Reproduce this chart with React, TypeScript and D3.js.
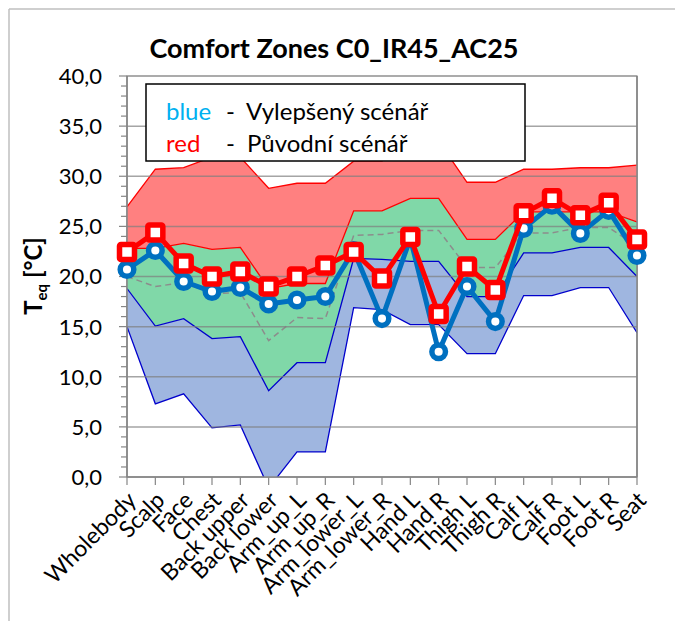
import React, { useEffect, useRef } from 'react';
import * as d3 from 'd3';

const categories = ['Wholebody', 'Scalp', 'Face', 'Chest', 'Back upper', 'Back lower', 'Arm_up_L', 'Arm_up_R', 'Arm_lower_L', 'Arm_lower_R', 'Hand L', 'Hand R', 'Thigh L', 'Thigh R', 'Calf L', 'Calf R', 'Foot L', 'Foot R', 'Seat'];

// comfort zone boundaries
const coldLimit = [15.0, 7.3, 8.3, 4.9, 5.2, -1.1, 2.5, 2.5, 16.9, 16.7, 15.2, 15.2, 12.3, 12.3, 18.1, 18.1, 18.9, 18.9, 14.4];
const coolLimit = [18.8, 15.05, 15.8, 13.8, 14.0, 8.6, 11.4, 11.4, 21.8, 21.7, 21.5, 21.5, 18.0, 18.0, 22.35, 22.35, 22.9, 22.9, 20.0];
const neutral = [20.0, 19.0, 19.4, 18.3, 18.4, 13.6, 15.9, 15.8, 24.1, 24.2, 24.6, 24.6, 20.9, 20.9, 24.35, 24.35, 24.9, 24.9, 23.0];
const warmLimit = [22.8, 22.8, 23.3, 22.7, 22.9, 18.8, 19.3, 19.3, 26.55, 26.55, 27.8, 27.8, 23.7, 23.7, 26.45, 26.45, 26.45, 26.45, 25.45];
const hotLimit = [26.95, 30.7, 30.85, 31.9, 31.9, 28.8, 29.3, 29.3, 31.5, 31.5, 33.5, 33.5, 29.4, 29.4, 30.7, 30.7, 30.85, 30.85, 31.1];

// scenarios
const blueValues = [20.7, 22.6, 19.5, 18.5, 18.9, 17.25, 17.65, 18.0, 22.6, 15.8, 23.8, 12.5, 19.0, 15.5, 24.8, 27.1, 24.3, 26.6, 22.1];
const redValues = [22.45, 24.4, 21.3, 20.0, 20.5, 19.0, 20.0, 21.1, 22.45, 19.8, 23.95, 16.25, 21.0, 18.65, 26.3, 27.8, 26.1, 27.35, 23.7];

const yTicks = [0, 5, 10, 15, 20, 25, 30, 35, 40];

const FONT = 'Lato, "Noto Sans", sans-serif';

const App = () => {
  const ref = useRef<SVGSVGElement | null>(null);

  useEffect(() => {
    const svg = d3.select(ref.current);
    svg.selectAll('*').remove();

    const left = 127, right = 637, top = 76, bottom = 477;

    const x = d3.scalePoint<string>().domain(categories).range([left, right]).padding(0);
    const y = d3.scaleLinear().domain([0, 40]).range([bottom, top]);

    // chart area border (cropped on right/bottom)
    svg.append('line').attr('x1', 9).attr('y1', 9).attr('x2', 675).attr('y2', 9).attr('stroke', '#bfbfbf').attr('stroke-width', 1.5);
    svg.append('line').attr('x1', 9).attr('y1', 9).attr('x2', 9).attr('y2', 621).attr('stroke', '#bfbfbf').attr('stroke-width', 1.5);

    svg.append('defs').append('clipPath').attr('id', 'plotclip')
      .append('rect').attr('x', left).attr('y', top).attr('width', right - left).attr('height', bottom - top);

    // plot area background + border
    svg.append('rect').attr('x', left).attr('y', top).attr('width', right - left).attr('height', bottom - top)
      .attr('fill', 'white').attr('stroke', '#595959').attr('stroke-width', 1);

    const idx = categories.map((_, i) => i);
    const band = (lo: number[], hi: number[]) =>
      d3.area<number>().x((i) => x(categories[i]) as number).y0((i) => y(lo[i])).y1((i) => y(hi[i]))(idx);
    const line = (vals: number[]) =>
      d3.line<number>().x((i) => x(categories[i]) as number).y((i) => y(vals[i]))(idx);

    const plot = svg.append('g').attr('clip-path', 'url(#plotclip)');

    plot.append('path').attr('d', band(coldLimit, coolLimit)).attr('fill', '#9fb6e0');
    plot.append('path').attr('d', band(coolLimit, warmLimit)).attr('fill', '#80d8a8');
    plot.append('path').attr('d', band(warmLimit, hotLimit)).attr('fill', '#ff8080');

    // gridlines
    svg.selectAll('.grid').data(yTicks.filter((t) => t > 0 && t < 40)).enter().append('line')
      .attr('x1', left).attr('x2', right).attr('y1', (d) => y(d)).attr('y2', (d) => y(d))
      .attr('stroke', '#7f7f7f').attr('stroke-opacity', 0.7).attr('stroke-width', 1.5);

    plot.append('path').attr('d', line(coldLimit)).attr('fill', 'none').attr('stroke', '#0000cc').attr('stroke-width', 1.3);
    plot.append('path').attr('d', line(coolLimit)).attr('fill', 'none').attr('stroke', '#0000cc').attr('stroke-width', 1.3);
    plot.append('path').attr('d', line(warmLimit)).attr('fill', 'none').attr('stroke', '#ff0000').attr('stroke-width', 1.3);
    plot.append('path').attr('d', line(hotLimit)).attr('fill', 'none').attr('stroke', '#ff0000').attr('stroke-width', 1.3);
    plot.append('path').attr('d', line(neutral)).attr('fill', 'none').attr('stroke', '#8c8c8c')
      .attr('stroke-width', 1.5).attr('stroke-dasharray', '6,4');

    // axes
    svg.append('line').attr('x1', left).attr('x2', left).attr('y1', top).attr('y2', bottom).attr('stroke', '#868686').attr('stroke-width', 1.5);
    svg.append('line').attr('x1', left).attr('x2', right).attr('y1', bottom).attr('y2', bottom).attr('stroke', '#868686').attr('stroke-width', 1.5);
    svg.append('line').attr('x1', right).attr('x2', right).attr('y1', top).attr('y2', bottom).attr('stroke', '#868686').attr('stroke-width', 1.5);

    const minor = d3.range(0, 41, 1);
    svg.selectAll('.ytick').data(minor).enter().append('line')
      .attr('x1', (d) => (d % 5 === 0 ? left - 8 : left - 6)).attr('x2', left)
      .attr('y1', (d) => y(d)).attr('y2', (d) => y(d))
      .attr('stroke', '#868686').attr('stroke-width', 1.2);

    svg.selectAll('.xtick').data(categories).enter().append('line')
      .attr('x1', (d) => x(d) as number).attr('x2', (d) => x(d) as number)
      .attr('y1', bottom).attr('y2', bottom + 8)
      .attr('stroke', '#868686').attr('stroke-width', 1.2);

    svg.selectAll('.ylab').data(yTicks).enter().append('text')
      .attr('x', 102).attr('y', (d) => y(d)).attr('dy', '0.36em')
      .attr('text-anchor', 'end').attr('font-family', FONT).attr('font-size', 22).attr('fill', '#000')
      .text((d) => d3.format('.1f')(d).replace('.', ','));

    svg.selectAll('.xlab').data(categories).enter().append('text')
      .attr('transform', (d) => `translate(${(x(d) as number) + 5},${bottom + 19}) rotate(-45)`)
      .attr('text-anchor', 'end').attr('dy', '0.35em')
      .attr('font-family', FONT).attr('font-size', 23).attr('fill', '#000')
      .text((d) => d);

    // series
    const drawSeries = (vals: number[], color: string, shape: 'circle' | 'square') => {
      svg.append('path').attr('d', line(vals)).attr('fill', 'none').attr('stroke', color)
        .attr('stroke-width', 5).attr('stroke-linejoin', 'round');
      const g = svg.append('g');
      if (shape === 'circle') {
        g.selectAll('circle').data(idx).enter().append('circle')
          .attr('cx', (i) => x(categories[i]) as number).attr('cy', (i) => y(vals[i]))
          .attr('r', 6.8).attr('fill', 'white').attr('stroke', color).attr('stroke-width', 5.5);
      } else {
        g.selectAll('rect').data(idx).enter().append('rect')
          .attr('x', (i) => (x(categories[i]) as number) - 7.5).attr('y', (i) => y(vals[i]) - 7.5)
          .attr('width', 15).attr('height', 15).attr('rx', 1.5).attr('fill', 'white').attr('stroke', color).attr('stroke-width', 5.5);
      }
    };
    drawSeries(blueValues, '#0070c0', 'circle');
    drawSeries(redValues, '#ff0000', 'square');

    // legend box
    svg.append('rect').attr('x', 146).attr('y', 84).attr('width', 379).attr('height', 77)
      .attr('fill', 'white').attr('stroke', '#000').attr('stroke-width', 1.5);
    const l1 = svg.append('text').attr('x', 166).attr('y', 120).attr('font-family', FONT).attr('font-size', 24);
    l1.append('tspan').attr('fill', '#00b0f0').text('blue');
    l1.append('tspan').attr('x', 226).attr('fill', '#000').text('-');
    l1.append('tspan').attr('x', 246).attr('fill', '#000').text('Vylepšený scénář');
    const l2 = svg.append('text').attr('x', 166).attr('y', 152).attr('font-family', FONT).attr('font-size', 24);
    l2.append('tspan').attr('fill', '#ff0000').text('red');
    l2.append('tspan').attr('x', 226).attr('fill', '#000').text('-');
    l2.append('tspan').attr('x', 247).attr('fill', '#000').text('Původní scénář');

    // title
    svg.append('text').attr('x', 334).attr('y', 58).attr('text-anchor', 'middle')
      .attr('font-family', FONT).attr('font-size', 27).attr('font-weight', 'bold').attr('fill', '#000')
      .text('Comfort Zones C0_IR45_AC25');

    // y axis title
    const yt = svg.append('text').attr('transform', 'translate(42,276) rotate(-90)').attr('text-anchor', 'middle')
      .attr('font-family', FONT).attr('font-size', 24).attr('font-weight', 'bold').attr('fill', '#000');
    yt.append('tspan').text('T');
    yt.append('tspan').attr('font-size', 15).attr('dy', 5).text('eq');
    yt.append('tspan').attr('dy', -5).text(' [°C]');
  }, []);

  return (
    <svg ref={ref} width={675} height={621} style={{ position: 'absolute', left: 0, top: 0, background: 'white' }} />
  );
};

export default App;
